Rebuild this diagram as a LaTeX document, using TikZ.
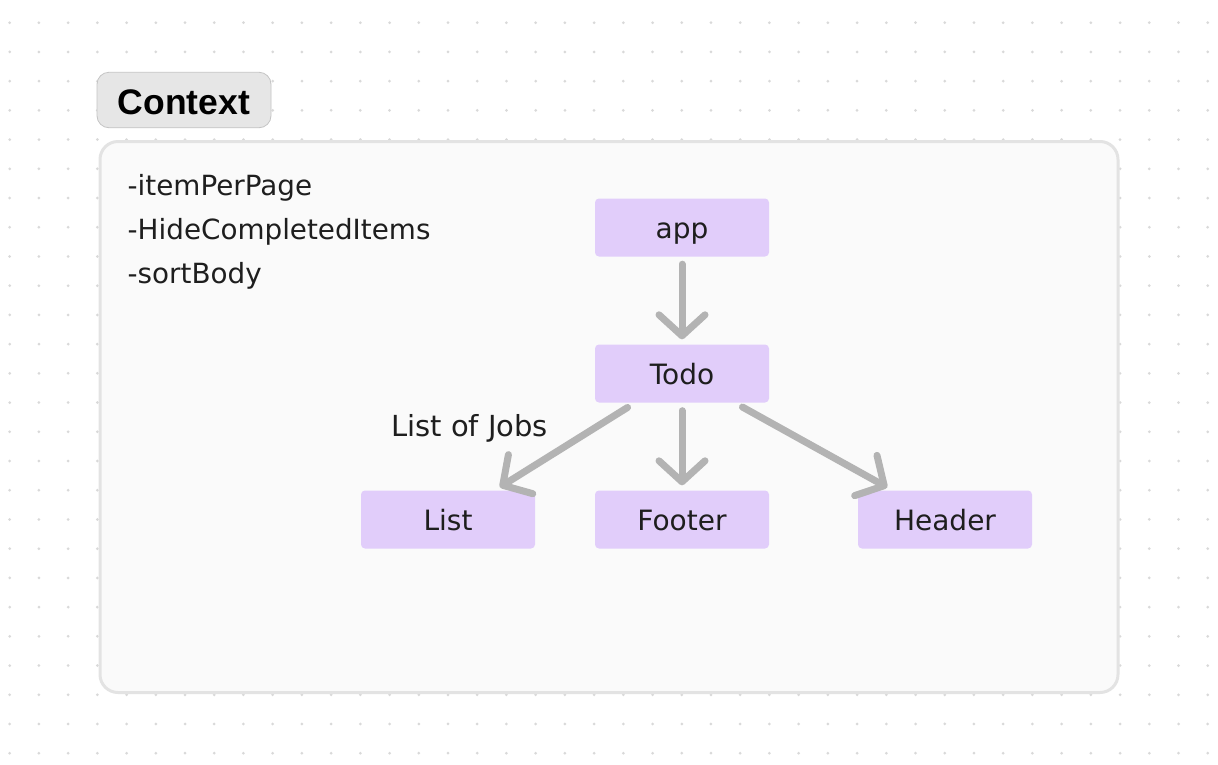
\documentclass[tikz,border=0pt]{standalone}
\usepackage{fontspec}
\setmainfont{DejaVu Sans}
\newfontfamily\ctxfont{Liberation Sans}
\usetikzlibrary{arrows.meta}
\definecolor{dotc}{HTML}{D9D9D9}
\definecolor{boxfill}{HTML}{FAFAFA}
\definecolor{boxline}{HTML}{E3E3E3}
\definecolor{ctxfill}{HTML}{E6E6E6}
\definecolor{ctxline}{HTML}{C4C4C4}
\definecolor{compfill}{HTML}{E1CDFA}
\definecolor{arrowc}{HTML}{B3B3B3}
\definecolor{txt}{HTML}{1E1E1E}
\tikzset{
  comp/.style={fill=compfill, rounded corners=4pt, minimum width=174pt, minimum height=58pt,
    inner sep=0pt, text=txt, font=\fontsize{28}{32}\selectfont, text height=22pt, text depth=0pt},
  itemtext/.style={anchor=base west, inner sep=0pt, text=txt, font=\fontsize{27.8}{32}\selectfont},
  conn/.style={draw=arrowc, line width=7pt, line cap=round,
    -{Straight Barb[length=21pt, width=46pt, round]}, shorten <=9pt, shorten >=6pt},
}
\begin{document}
\begin{tikzpicture}[x=1pt,y=-1pt]
\useasboundingbox (0,0) rectangle (1218,764);
\fill[white] (0,0) rectangle (1218,764);
\foreach \i in {0,...,41}{\foreach \j in {0,...,25}{
  \fill[dotc] (9.7+29.22*\i, 22.7+29.22*\j) circle (1.5);}}
% context frame
\node[draw=boxline, fill=boxfill, line width=3pt, rounded corners=18pt,
  minimum width=1018pt, minimum height=551pt, inner sep=0pt] (frame) at (609,417) {};
\node[draw=ctxline, fill=ctxfill, line width=0.8pt, rounded corners=12pt,
  minimum width=174pt, minimum height=55.5pt, inner sep=0pt,
  font=\ctxfont\bfseries\fontsize{35.5}{40}\selectfont, text=black,
  text height=28.6pt, text depth=0pt] (ctx) at (184,100) {Context};
% state items
\node[itemtext] (item1) at (127.5,195) {-itemPerPage};
\node[itemtext] (item2) at (127.5,239) {-HideCompletedItems};
\node[itemtext] (item3) at (127.5,283) {-sortBody};
% components
\node[comp] (app) at (682,227.5) {app};
\node[comp] (todo) at (682,373.5) {Todo};
\node[comp] (list) at (448,519.5) {List};
\node[comp] (footer) at (682,519.5) {Footer};
\node[comp] (header) at (945,519.5) {Header};
\node[itemtext, font=\fontsize{29}{32}\selectfont] (lbl) at (391,436) {List of Jobs};
% connectors
\draw[conn, shorten <=7.5pt, shorten >=5pt] (app) -- (todo);
\draw[conn] (todo) -- (list);
\draw[conn, shorten <=8pt, shorten >=5pt] (todo) -- (footer);
\draw[conn] (todo) -- (header);
\end{tikzpicture}
\end{document}
